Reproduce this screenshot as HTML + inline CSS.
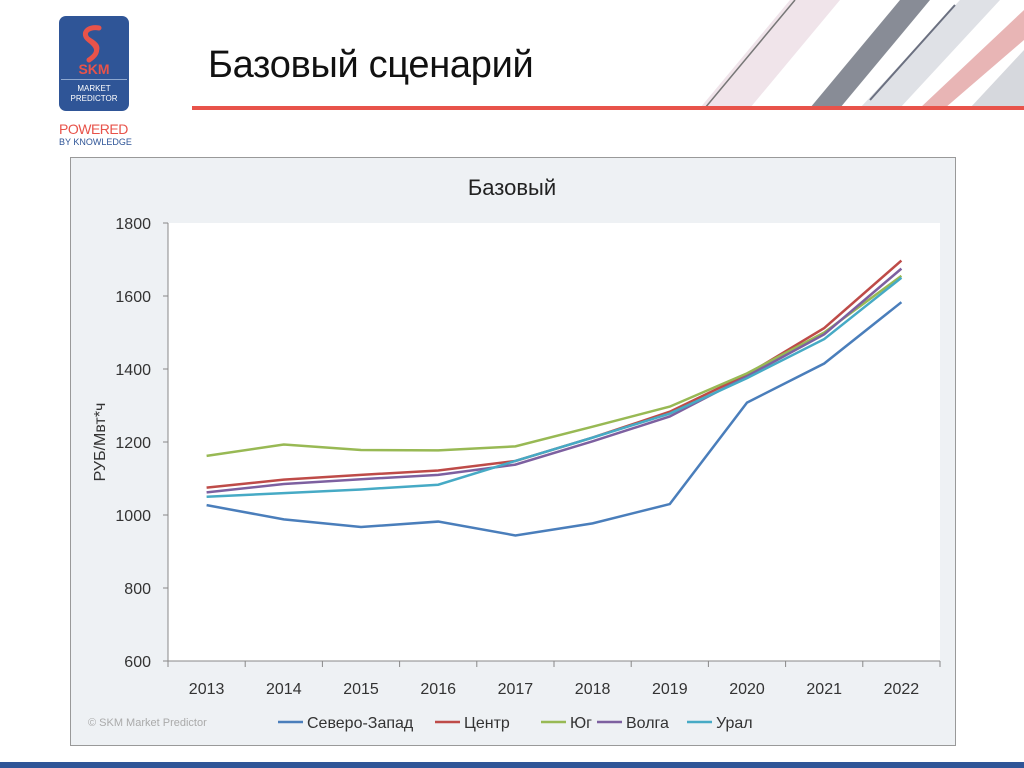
<!DOCTYPE html>
<html><head><meta charset="utf-8"><style>
body{margin:0;width:1024px;height:768px;background:#fff;position:relative;overflow:hidden;font-family:"Liberation Sans",sans-serif}
.abs{position:absolute}
</style></head><body>
<div class="abs" style="left:59px;top:16px;width:70px;height:95px;background:#2f5597;border-radius:7px">
 <svg width="70" height="60"><path d="M40 12 C28 10 22 18 30 24 C38 30 42 36 30 44" stroke="#e8534a" stroke-width="5" fill="none" stroke-linecap="round"/><path d="M26 20 C34 26 44 28 36 40" stroke="#e8534a" stroke-width="3" fill="none"/></svg>
 <div class="abs" style="left:0;top:45px;width:70px;text-align:center;color:#e8534a;font-weight:bold;font-size:14px">SKM</div>
 <div class="abs" style="left:2px;top:63px;width:66px;border-top:1px solid #8fa8d0"></div>
 <div class="abs" style="left:0;top:68px;width:70px;text-align:center;color:#fff;font-size:8px;line-height:10px">MARKET<br>PREDICTOR</div>
</div>
<div class="abs" style="left:59px;top:121px;color:#e8534a;font-size:14px;letter-spacing:-0.5px">POWERED</div>
<div class="abs" style="left:59px;top:137px;color:#2f5597;font-size:9px">BY KNOWLEDGE</div>
<div class="abs" style="left:208px;top:44px;font-size:38px;color:#111;letter-spacing:-0.3px">Базовый сценарий</div>
<svg class="abs" style="left:600px;top:0" width="424" height="108">
 <polygon points="100,108 190,0 240,0 150,108" fill="#f0e4ea"/>
 <polygon points="210,108 300,0 330,0 240,108" fill="#888c96"/>
 <polygon points="260,108 360,0 400,0 300,108" fill="#dfe1e6"/>
 <line x1="105" y1="108" x2="195" y2="0" stroke="#777" stroke-width="1.5"/>
 <line x1="270" y1="100" x2="355" y2="5" stroke="#6b7080" stroke-width="2"/>
 <polygon points="320,108 424,10 424,40 345,108" fill="#e8b5b5"/>
 <polygon points="370,108 424,50 424,108" fill="#d6d8dd"/>
</svg>
<div class="abs" style="left:192px;top:106px;width:832px;height:4px;background:#e8534a"></div>
<div class="abs" style="left:70px;top:157px;width:884px;height:587px;border:1px solid #999;background:#eef1f4"></div>
<div class="abs" style="left:0;top:762px;width:1024px;height:6px;background:#2f5597"></div>
<svg class="abs" id="chart" style="left:0;top:0" width="1024" height="768"></svg>
<script>
const years=['2013','2014','2015','2016','2017','2018','2019','2020','2021','2022'];
const yTicks=[600,800,1000,1200,1400,1600,1800];
const seriesNames=['Северо-Запад','Центр','Юг','Волга','Урал'];
const seriesColors=['#4a7ebb','#be4b48','#98b954','#7d60a0','#46aac5'];
const szValues=[1027,988,967,982,944,977,1030,1308,1415,1583];
const centrValues=[1075,1097,1110,1122,1148,1212,1283,1385,1512,1697];
const yugValues=[1162,1193,1178,1177,1188,1242,1297,1388,1500,1655];
const volgaValues=[1062,1085,1098,1110,1138,1202,1270,1380,1495,1675];
const uralValues=[1050,1060,1070,1083,1148,1212,1278,1375,1482,1650];
const allSeries=[szValues,centrValues,yugValues,volgaValues,uralValues];
const NS='http://www.w3.org/2000/svg';
const svg=document.getElementById('chart');
const L=168,R=940,T=223,B=661,yMin=600,yMax=1800;
const step=(R-L)/years.length;
const xS=i=>L+step*(i+0.5);
const yS=v=>B-(v-yMin)/(yMax-yMin)*(B-T);
function mk(tag,attrs,txt){const e=document.createElementNS(NS,tag);for(const k in attrs)e.setAttribute(k,attrs[k]);if(txt!==undefined)e.textContent=txt;svg.appendChild(e);return e;}
let e=mk('rect',{x:L,y:T,width:R-L,height:B-T,fill:'#fff'});


e=mk('text',{x:512,y:195,'text-anchor':'middle','font-size':22,fill:'#222'},'Базовый');


e=mk('line',{x1:L,y1:T,x2:L,y2:B,stroke:'#888'});


e=mk('line',{x1:L,y1:B,x2:R,y2:B,stroke:'#888'});


yTicks.forEach(t=>{
 e=mk('line',{x1:L-5,y1:yS(t),x2:L,y2:yS(t),stroke:'#888'});
 
 
 e=mk('text',{x:L-17,y:yS(t)+6,'text-anchor':'end','font-size':16,fill:'#333'},t);
 
 
});
for(let i=0;i<=years.length;i++){
 e=mk('line',{x1:L+step*i,y1:B,x2:L+step*i,y2:B+6,stroke:'#888'});
 
 
}
years.forEach((y,i)=>{
 e=mk('text',{x:xS(i),y:694,'text-anchor':'middle','font-size':16,fill:'#333'},y);
 
 
});
e=mk('text',{x:105,y:442,'text-anchor':'middle','font-size':16,fill:'#333',transform:'rotate(-90 105 442)'},'РУБ/Мвт*ч');


allSeries.forEach((vals,s)=>{
 e=mk('polyline',{points:vals.map((v,i)=>xS(i)+','+yS(v)).join(' '),fill:'none',stroke:seriesColors[s],'stroke-width':2.5});
 
 
});
const legX=[278,435,541,597,687];
seriesNames.forEach((n,s)=>{
 e=mk('line',{x1:legX[s],y1:722,x2:legX[s]+25,y2:722,stroke:seriesColors[s],'stroke-width':2.5});
 
 
 e=mk('text',{x:legX[s]+29,y:728,'font-size':16,fill:'#333'},n);
 
 
});
e=mk('text',{x:88,y:726,'font-size':11,fill:'#aaa'},'© SKM Market Predictor');


</script>
</body></html>
